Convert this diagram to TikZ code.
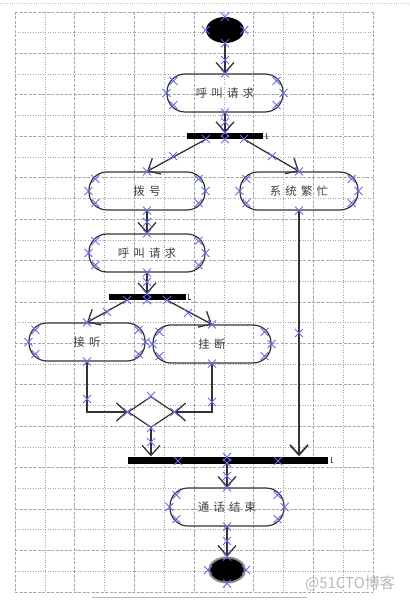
\documentclass[tikz,border=0pt]{standalone}
\usepackage{fontspec}
\newfontfamily\cjk[LetterSpace=35]{Noto Sans CJK SC}
\newfontfamily\wmfont{Noto Sans CJK SC}
\usetikzlibrary{arrows.meta, shapes.geometric}

\definecolor{selblue}{RGB}{105,105,235}
\tikzset{
    act/.style={draw=black!80, line width=1.2pt, rounded corners=18pt, minimum width=116pt,
        minimum height=38pt, font=\cjk\fontsize{11.5}{11.5}\selectfont, text=black!75},
    syncbar/.style={fill=black, inner sep=0pt, minimum height=6pt},
    flow/.style={draw=black!80, line width=1.3pt, -{Straight Barb[length=10pt,width=18pt]}},
    xmark/.style={draw=selblue, line width=0.9pt},
    majorgrid/.style={draw=black!35, line width=0.7pt, dash pattern=on 3pt off 1.5pt},
    minorgrid/.style={draw=black!35, line width=0.6pt, dash pattern=on 1pt off 1.5pt},
}

\begin{document}
\begin{tikzpicture}[x=1pt, y=-1pt]
    \useasboundingbox (0,0) rectangle (409,601);
    % grid
    \draw[black!25, dotted] (0,3) -- (409,3);
    \foreach \i in {0,2,...,12} \draw[majorgrid] ({15+29.83*\i},12) -- ({15+29.83*\i},592);
    \foreach \i in {1,3,...,11} \draw[minorgrid] ({15+29.83*\i},12) -- ({15+29.83*\i},592);
    \foreach \j in {0,2,...,28} \draw[majorgrid] (15,{12+20.71*\j}) -- (373,{12+20.71*\j});
    \foreach \j in {1,3,...,27} \draw[minorgrid] (15,{12+20.71*\j}) -- (373,{12+20.71*\j});
    \draw[black!30, line width=0.5pt] (92,597) -- (307,597);

    \node[ellipse, fill=black, minimum width=38pt, minimum height=26pt, inner sep=0pt] (start) at (225,30) {};
    \node[act] (req1) at (225,93) {呼叫请求};
    \node[syncbar, minimum width=76pt] (fork1) at (225,136) {};
    \node[act] (dial) at (147,191) {拨号};
    \node[act, minimum width=118pt] (busy) at (299,191) {系统繁忙};
    \node[act] (req2) at (147,253) {呼叫请求};
    \node[syncbar, minimum width=77pt] (fork2) at (147,297) {};
    \node[act] (answer) at (87,342) {接听};
    \node[act, minimum width=118pt] (hangup) at (212,344) {挂断};
    \node[diamond, draw=black!80, line width=1.2pt, minimum width=46pt, minimum height=31pt, inner sep=0pt] (merge) at (151,412) {};
    \node[syncbar, minimum width=200pt, minimum height=7pt] (join) at (228,460) {};
    \node[act, minimum width=114pt] (callend) at (227,507) {通话结束};
    \node[ellipse, fill=black, draw=black!45, line width=2pt, minimum width=36pt, minimum height=25pt, inner sep=0pt] (stop) at (227,570) {};

    % tiny marks at bar ends
    \foreach \b in {fork1,fork2,join}
        \draw[black!70, line width=0.6pt] ([xshift=3pt,yshift=3pt]\b.east) -- ([xshift=3pt,yshift=-2pt]\b.east) -- ([xshift=5pt,yshift=-2pt]\b.east);

    \draw[flow] (start) -- (req1);
    \draw[flow] (req1) -- (fork1);
    \draw[flow] ([xshift=-19pt]fork1.south) -- (dial.north);
    \draw[flow] ([xshift=19pt]fork1.south) -- (busy.north);
    \draw[flow] (dial) -- (req2);
    \draw[flow] (req2) -- (fork2);
    \draw[flow] ([xshift=-20pt]fork2.south) -- (answer.north);
    \draw[flow] ([xshift=20pt]fork2.south) -- (hangup.north);
    \draw[flow] (answer.south) |- (merge.west);
    \draw[flow] (hangup.south) |- (merge.east);
    \draw[flow] (merge) -- (merge |- join.north);
    \draw[flow, line width=1.8pt] (busy) -- (busy |- join.north);
    \draw[flow] (join.south -| callend) -- (callend);
    \draw[flow] (callend) -- (stop);

    % selection marks
    \foreach \n in {req1,dial,busy,req2,answer,hangup,callend} {
        \foreach \p in {north,south,east,west}
            \draw[xmark] (\n.\p) +(-4,-4) -- +(4,4) +(-4,4) -- +(4,-4);
        \draw[xmark] ([xshift=-7pt,yshift=12pt]\n.east) +(-4,-4) -- +(4,4) +(-4,4) -- +(4,-4);
        \draw[xmark] ([xshift=-7pt,yshift=-12pt]\n.east) +(-4,-4) -- +(4,4) +(-4,4) -- +(4,-4);
        \draw[xmark] ([xshift=7pt,yshift=12pt]\n.west) +(-4,-4) -- +(4,4) +(-4,4) -- +(4,-4);
        \draw[xmark] ([xshift=7pt,yshift=-12pt]\n.west) +(-4,-4) -- +(4,4) +(-4,4) -- +(4,-4);
    }
    \foreach \n in {start,stop,merge}
        \foreach \p in {north,south,east,west}
            \draw[xmark] (\n.\p) +(-4,-4) -- +(4,4) +(-4,4) -- +(4,-4);
    \foreach \c in {{225,60},{225,122},fork1.north,fork1.south,{206,139},{244,139},{173,156},{272,156},
            {147,222},{147,282},fork2.north,fork2.south,{127,300},{167,300},{107,312},{188,313},
            {87,399},{212,402},{151,442},{299,333},{178,461},{227,457},{227,463},{278,461},
            {227,476},{227,541}}
        \draw[xmark] (\c) +(-4,-4) -- +(4,4) +(-4,4) -- +(4,-4);

    \node[font=\wmfont\fontsize{15}{15}\selectfont, text=black!28] (wm) at (350,583) {@51CTO博客};
\end{tikzpicture}
\end{document}
